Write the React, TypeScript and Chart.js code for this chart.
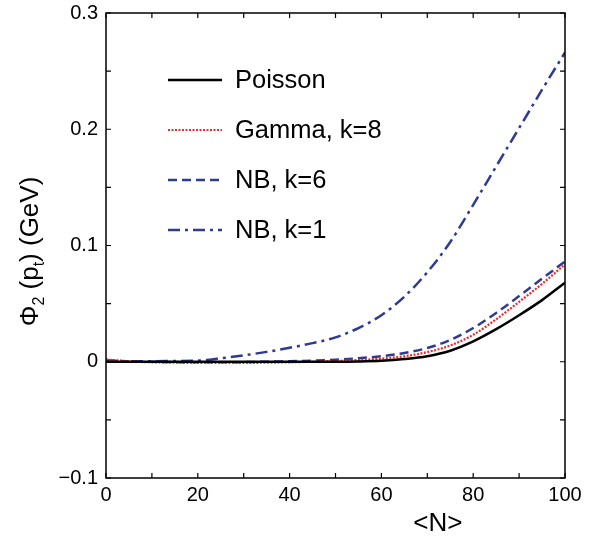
import React, { useEffect, useRef } from "react";
import { Chart, registerables } from "chart.js";

Chart.register(...registerables);

const meanN = [0, 5, 10, 15, 20, 25, 30, 35, 40, 45, 50, 55, 60, 65, 70, 75, 80, 85, 90, 95, 100];
const poisson = [0, 0, 0, 0, 0, 0, 0, 0, 0, 0, 0, 0.0002, 0.0008, 0.0023, 0.0048, 0.0095, 0.0175, 0.028, 0.04, 0.053, 0.068];
const gammaK8 = [0.002, 0.0003, -0.0005, -0.0008, -0.001, -0.001, -0.001, -0.0008, -0.0005, 0.0, 0.0007, 0.0015, 0.0027, 0.0047, 0.0083, 0.014, 0.0232, 0.0365, 0.0515, 0.067, 0.0838];
const nbK6 = [0.001, 0.0003, 0, -0.0003, -0.0005, -0.0005, -0.0003, 0, 0.0005, 0.001, 0.0018, 0.003, 0.0048, 0.0075, 0.0118, 0.0188, 0.029, 0.042, 0.0565, 0.0715, 0.0862];
const nbK1 = [0.001, 0.0005, 0.0005, 0.0007, 0.001, 0.003, 0.0055, 0.0085, 0.012, 0.016, 0.021, 0.029, 0.04, 0.056, 0.077, 0.103, 0.135, 0.168, 0.201, 0.234, 0.266];

const seriesNames = ["Poisson", "Gamma, k=8", "NB, k=6", "NB, k=1"];
const xTicksMajor = [0, 20, 40, 60, 80, 100];
const xTicksMinor = [10, 30, 50, 70, 90];
const yTicksMajor = [-0.1, 0, 0.1, 0.2, 0.3];
const yTicksMinor = [-0.05, 0.05, 0.15, 0.25];

const FONT = "'Liberation Sans', Arial, Helvetica, sans-serif";
const BLUE = "#2e3a94";

const framePlugin = {
  id: "frameAndExtras",
  afterDatasetsDraw(chart: any) {
    const { ctx, chartArea: a, scales } = chart;
    const xs = scales.x;
    const ys = scales.y;
    ctx.save();
    // frame
    ctx.strokeStyle = "#000";
    ctx.lineWidth = 1.5;
    ctx.setLineDash([]);
    ctx.strokeRect(a.left, a.top, a.right - a.left, a.bottom - a.top);
    // inward ticks
    const tl = 5;
    ctx.lineWidth = 1.2;
    ctx.beginPath();
    [...xTicksMajor, ...xTicksMinor].forEach((v) => {
      const px = xs.getPixelForValue(v);
      ctx.moveTo(px, a.bottom);
      ctx.lineTo(px, a.bottom - tl);
      ctx.moveTo(px, a.top);
      ctx.lineTo(px, a.top + tl);
    });
    [...yTicksMajor, ...yTicksMinor].forEach((v) => {
      const py = ys.getPixelForValue(v);
      ctx.moveTo(a.left, py);
      ctx.lineTo(a.left + tl, py);
      ctx.moveTo(a.right, py);
      ctx.lineTo(a.right - tl, py);
    });
    ctx.stroke();

    // legend
    const lx0 = a.left + 62;
    const lx1 = a.left + 116;
    const tx = a.left + 129;
    const rowY0 = a.top + 67;
    const rowStep = 50;
    chart.data.datasets.forEach((ds: any, i: number) => {
      const y = rowY0 + i * rowStep;
      ctx.save();
      ctx.strokeStyle = ds.borderColor;
      ctx.lineWidth = ds.borderWidth;
      ctx.setLineDash(ds.borderDash || []);
      ctx.beginPath();
      ctx.moveTo(lx0, y);
      ctx.lineTo(lx1, y);
      ctx.stroke();
      ctx.restore();
      ctx.fillStyle = "#000";
      ctx.font = `25.5px ${FONT}`;
      ctx.textBaseline = "middle";
      ctx.textAlign = "left";
      ctx.fillText(ds.label, tx, y + 1);
    });

    // x title
    ctx.fillStyle = "#000";
    ctx.font = `26px ${FONT}`;
    ctx.textAlign = "center";
    ctx.textBaseline = "alphabetic";
    ctx.fillText("<N>", a.left + 0.723 * (a.right - a.left), a.bottom + 53);

    // y title with subscripts
    const big = `26px ${FONT}`;
    const small = `16px ${FONT}`;
    const parts: [string, boolean][] = [
      ["Φ", false],
      ["2", true],
      [" (p", false],
      ["t", true],
      [") (GeV)", false],
    ];
    let total = 0;
    const widths = parts.map(([t, sub]) => {
      ctx.font = sub ? small : big;
      const w = ctx.measureText(t).width;
      total += w;
      return w;
    });
    ctx.translate(38, (a.top + a.bottom) / 2 + 6);
    ctx.rotate(-Math.PI / 2);
    ctx.textAlign = "left";
    let cx = -total / 2;
    parts.forEach(([t, sub], i) => {
      ctx.font = sub ? small : big;
      ctx.fillText(t, cx, sub ? 6 : 0);
      cx += widths[i];
    });
    ctx.restore();
  },
};

function toPoints(vals: number[]) {
  return meanN.map((n, i) => ({ x: n, y: vals[i] }));
}

export default function App() {
  const ref = useRef<HTMLCanvasElement>(null);
  useEffect(() => {
    document.body.style.margin = "0";
    const canvas = ref.current!;
    const chart = new Chart(canvas, {
      type: "line",
      data: {
        datasets: [
          {
            label: seriesNames[0],
            data: toPoints(poisson),
            borderColor: "#000000",
            borderWidth: 2.5,
            pointRadius: 0,
            cubicInterpolationMode: "monotone",
          },
          {
            label: seriesNames[1],
            data: toPoints(gammaK8),
            borderColor: "#ee2a2a",
            borderWidth: 2.2,
            borderDash: [2, 1.5],
            pointRadius: 0,
            cubicInterpolationMode: "monotone",
          },
          {
            label: seriesNames[2],
            data: toPoints(nbK6),
            borderColor: BLUE,
            borderWidth: 2.5,
            borderDash: [9, 5],
            pointRadius: 0,
            cubicInterpolationMode: "monotone",
          },
          {
            label: seriesNames[3],
            data: toPoints(nbK1),
            borderColor: BLUE,
            borderWidth: 2.5,
            borderDash: [12, 5, 3, 5],
            pointRadius: 0,
            cubicInterpolationMode: "monotone",
          },
        ] as any,
      },
      options: {
        animation: false,
        responsive: false,
        layout: { padding: { top: 13, right: 35, left: 0, bottom: 0 } },
        plugins: { legend: { display: false }, tooltip: { enabled: false } },
        scales: {
          x: {
            type: "linear",
            min: 0,
            max: 100,
            grid: { display: false, drawTicks: false },
            border: { display: false },
            afterFit: (s: any) => {
              s.height = 59;
              s.paddingLeft = 0;
              s.paddingRight = 0;
            },
            afterBuildTicks: (s: any) => {
              s.ticks = xTicksMajor.map((v) => ({ value: v }));
            },
            ticks: {
              color: "#000",
              font: { family: FONT, size: 20 },
              padding: 5,
              maxRotation: 0,
              callback: (v: any) => String(v),
            },
          },
          y: {
            type: "linear",
            min: -0.1,
            max: 0.3,
            grid: { display: false, drawTicks: false },
            border: { display: false },
            afterFit: (s: any) => {
              s.width = 106;
              s.paddingTop = 0;
              s.paddingBottom = 0;
            },
            afterBuildTicks: (s: any) => {
              s.ticks = yTicksMajor.map((v) => ({ value: v }));
            },
            ticks: {
              color: "#000",
              font: { family: FONT, size: 20 },
              padding: 8,
              callback: (v: any) => {
                const n = Number(Number(v).toFixed(2));
                return n < 0 ? "\u2212" + String(Math.abs(n)) : String(n);
              },
            },
          },
        },
      },
      plugins: [framePlugin],
    });
    return () => chart.destroy();
  }, []);
  return (
    <div style={{ width: 600, height: 537, background: "#fff" }}>
      <canvas ref={ref} width={600} height={537} />
    </div>
  );
}
